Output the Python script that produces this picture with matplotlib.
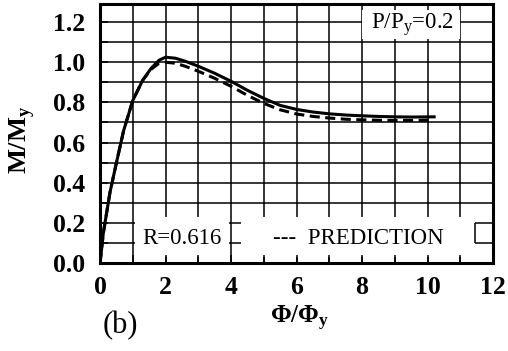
import matplotlib
matplotlib.use('Agg')
import numpy as np
import matplotlib.pyplot as plt
from matplotlib.patches import Rectangle
from matplotlib.ticker import MultipleLocator

# test curve (solid) and prediction (dashed)
phi_test = [0.0, 0.1, 0.3, 0.5, 0.72, 1.0, 1.3, 1.56, 1.8, 2.0, 2.3, 2.6, 3.0, 3.5, 4.0, 4.5, 5.0, 5.5, 6.0, 6.5, 7.0, 7.5, 8.0, 8.5, 9.0, 9.5, 10.2]
m_test = [0.0, 0.15, 0.35, 0.50, 0.66, 0.81, 0.91, 0.97, 1.01, 1.025, 1.02, 1.005, 0.98, 0.945, 0.905, 0.86, 0.82, 0.785, 0.765, 0.752, 0.743, 0.737, 0.733, 0.73, 0.728, 0.727, 0.728]
phi_pred = [0.0, 0.1, 0.3, 0.5, 0.72, 1.0, 1.3, 1.56, 1.8, 2.0, 2.3, 2.6, 3.0, 3.5, 4.0, 4.5, 5.0, 5.5, 6.0, 6.5, 7.0, 7.5, 8.0, 8.5, 9.0, 9.5, 10.2]
m_pred = [0.0, 0.15, 0.35, 0.50, 0.66, 0.81, 0.91, 0.965, 0.995, 1.0, 0.995, 0.98, 0.955, 0.92, 0.88, 0.835, 0.795, 0.763, 0.742, 0.73, 0.722, 0.716, 0.713, 0.711, 0.71, 0.71, 0.712]

xticks = [0, 2, 4, 6, 8, 10, 12]
yticks = [0.0, 0.2, 0.4, 0.6, 0.8, 1.0, 1.2]

plt.rcParams['font.family'] = ['Liberation Serif', 'DejaVu Serif']
plt.rcParams['mathtext.fontset'] = 'custom'
plt.rcParams['mathtext.rm'] = 'Liberation Serif'
plt.rcParams['mathtext.bf'] = 'Liberation Serif:bold'

fig = plt.figure(figsize=(5.08, 3.51), dpi=100)
ax = fig.add_axes([0.197, 0.2507, 0.7736, 0.7379])

ax.set_xlim(0, 12)
ax.set_ylim(0, 1.29)

# grid drawn by hand so the label boxes can blank it out
ax.vlines(np.arange(1, 12), 0, 1.29, color='black', linewidth=1.1, zorder=1)
ax.hlines(np.arange(1, 13) * 0.1, 0, 12, color='black', linewidth=1.1, zorder=1)

ax.xaxis.set_minor_locator(MultipleLocator(1))
ax.yaxis.set_minor_locator(MultipleLocator(0.1))
ax.tick_params(which='both', direction='in', length=6, width=1.1, top=False, right=False)
ax.tick_params(which='major', labelsize=18.5)
ax.tick_params(axis='x', which='major', pad=9)
ax.tick_params(axis='y', which='major', pad=11)
ax.set_xticks(xticks)
ax.set_yticks(yticks)
ax.set_xticklabels([str(v) for v in xticks], fontweight='bold')
ax.set_yticklabels([f'{v:.1f}' for v in yticks], fontweight='bold')
for s in ax.spines.values():
    s.set_linewidth(2.2)

ax.plot(phi_test, m_test, color='black', linewidth=2.2, zorder=3)
ax.plot(phi_pred, m_pred, color='black', linewidth=2.2, linestyle=(0, (3.3, 1.8)), zorder=3)

# white label boxes erasing the grid
boxes = [(1.06, 0.03, 2.88, 0.2), (4.3, 0.03, 7.15, 0.2), (8.0, 1.115, 3.0, 0.145)]
for bx, by, bw, bh in boxes:
    ax.add_patch(Rectangle((bx, by), bw, bh, facecolor='white', edgecolor='none', zorder=1.5))
ax.vlines(11.45, 0.1, 0.2, color='black', linewidth=1.1, zorder=1.6)

ax.text(2.5, 0.12, 'R=0.616', ha='center', va='center', fontsize=16.5, zorder=4)
ax.text(7.9, 0.12, '---  PREDICTION', ha='center', va='center', fontsize=16.5, zorder=4)
ax.text(9.55, 1.185, r'P/P$_\mathregular{y}$=0.2', ha='center', va='center', fontsize=16.5, zorder=4)

fig.text(22 / 508, 1 - 140 / 351, r'M/M$_\mathbf{y}$', rotation=90, fontsize=19,
         fontweight='bold', ha='center', va='center')
fig.text(300 / 508, 1 - 318 / 351, r'$\mathbf{\Phi}$/$\mathbf{\Phi_y}$', fontsize=18,
         fontweight='bold', ha='center', va='center')
fig.text(120 / 508, 1 - 326 / 351, '(b)', fontsize=22, ha='center', va='center')

plt.savefig('out.png', dpi=100)
plt.close()
